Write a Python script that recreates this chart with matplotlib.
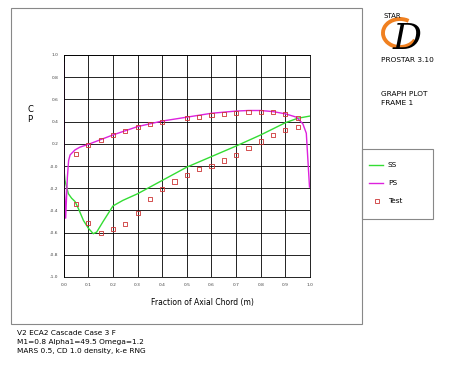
import numpy as np
import matplotlib
matplotlib.use('Agg')
import matplotlib.pyplot as plt
from matplotlib.patches import Rectangle, Arc
from matplotlib.lines import Line2D

W, H = 449, 366

# SS curve (suction side)
ss_x = [0.0, 0.005, 0.019, 0.032, 0.046, 0.059, 0.08, 0.1, 0.12, 0.134, 0.16, 0.2, 0.24,
        0.3, 0.4, 0.5, 0.6, 0.7, 0.8, 0.9, 0.95, 1.0]
ss_cp = [0.0, -0.13, -0.25, -0.29, -0.32, -0.38, -0.49, -0.56, -0.61, -0.595, -0.50, -0.36, -0.31,
         -0.25, -0.13, -0.01, 0.085, 0.18, 0.28, 0.39, 0.43, 0.45]

# PS curve (pressure side)
ps_x = [0.0, 0.001, 0.003, 0.008, 0.015, 0.02, 0.026, 0.046, 0.066, 0.1, 0.2, 0.3, 0.4, 0.5,
        0.6, 0.7, 0.75, 0.8, 0.85, 0.9, 0.945, 0.971, 0.985, 0.998]
ps_cp = [0.93, 0.3, -0.2, -0.47, -0.1, 0.05, 0.10, 0.145, 0.17, 0.195, 0.28, 0.355, 0.405, 0.44,
         0.475, 0.495, 0.50, 0.50, 0.49, 0.47, 0.44, 0.38, 0.295, -0.19]

# Test data
test_x = [0.05, 0.1, 0.15, 0.2, 0.25, 0.3, 0.35, 0.4, 0.5, 0.55, 0.6, 0.65, 0.7, 0.75, 0.8,
          0.85, 0.9, 0.95,
          0.05, 0.1, 0.15, 0.2, 0.25, 0.3, 0.35, 0.4, 0.45, 0.5, 0.55, 0.6, 0.65, 0.7, 0.75,
          0.8, 0.85, 0.9, 0.95]
test_cp = [0.11, 0.19, 0.237, 0.28, 0.315, 0.35, 0.38, 0.40, 0.43, 0.445, 0.46, 0.47, 0.48,
           0.49, 0.49, 0.484, 0.466, 0.43,
           -0.34, -0.51, -0.60, -0.57, -0.52, -0.42, -0.30, -0.21, -0.14, -0.08, -0.03, 0.0,
           0.05, 0.10, 0.165, 0.22, 0.28, 0.325, 0.35]

x_ticks = np.round(np.arange(0, 1.01, 0.1), 1)
y_ticks = np.round(np.arange(-1.0, 1.01, 0.2), 1)

green = '#33dd33'
magenta = '#dd22dd'
red = '#cc3333'


def fx(px):
    return px / W


def fy(py):
    return 1 - py / H


fig = plt.figure(figsize=(W / 100, H / 100), dpi=100)
fig.patch.set_facecolor('white')

# outer frame and legend box
fig.patches.append(Rectangle((fx(11), fy(324)), fx(362) - fx(11), fy(8) - fy(324),
                             transform=fig.transFigure, fill=False, edgecolor='#888888', lw=0.8))
fig.patches.append(Rectangle((fx(362), fy(219)), fx(433) - fx(362), fy(149) - fy(219),
                             transform=fig.transFigure, fill=False, edgecolor='#888888', lw=0.8))

ax = fig.add_axes([fx(63.7), fy(277), fx(310) - fx(63.7), fy(55) - fy(277)])
ax.plot(ss_x, ss_cp, color=green, lw=1.0)
ax.plot(ps_x, ps_cp, color=magenta, lw=1.0)
ax.scatter(test_x, test_cp, marker='s', s=9, facecolors='none', edgecolors=red, linewidths=0.6, zorder=3)

ax.set_xlim(0, 1.0)
ax.set_ylim(-1.0, 1.0)
ax.set_xticks(x_ticks)
ax.set_yticks(y_ticks)
ax.set_xticklabels([f'{v:.1f}' for v in x_ticks])
ax.set_yticklabels([f'{v:.1f}' for v in y_ticks])
ax.tick_params(labelsize=3.2, length=0, pad=4, colors='#444444')
ax.grid(True, color='black', lw=0.6)
for s in ax.spines.values():
    s.set_color('black')
    s.set_linewidth(0.6)

fig.text(fx(30), fy(110), 'C', fontsize=6, ha='center', va='center')
fig.text(fx(30), fy(119), 'P', fontsize=6, ha='center', va='center')
fig.text(fx(202), fy(302), 'Fraction of Axial Chord (m)', fontsize=5.5, ha='center', va='center')

# footnote
for i, t in enumerate(['V2 ECA2 Cascade Case 3 F', 'M1=0.8 Alpha1=49.5 Omega=1.2',
                       'MARS 0.5, CD 1.0 density, k-e RNG']):
    fig.text(fx(17), fy(333 + 9 * i), t, fontsize=5.3, ha='left', va='center')

# logo
fig.patches.append(Arc((fx(400), fy(33)), fx(34), fy(0) - fy(28), angle=0,
                       theta1=60, theta2=330, transform=fig.transFigure,
                       color='#f08020', lw=2.8))
fig.text(fx(407), fy(49), 'D', fontsize=26, family='DejaVu Serif', style='italic',
         ha='center', va='baseline', color='black')
fig.text(fx(383), fy(16), 'STAR', fontsize=5, ha='left', va='center')
fig.text(fx(381), fy(60), 'PROSTAR 3.10', fontsize=5.3, ha='left', va='center')
fig.text(fx(381), fy(94), 'GRAPH PLOT', fontsize=5.3, ha='left', va='center')
fig.text(fx(381), fy(103), 'FRAME 1', fontsize=5.3, ha='left', va='center')

# legend
fig.lines.append(Line2D([fx(369), fx(383)], [fy(165), fy(165)], transform=fig.transFigure, color=green, lw=1.0))
fig.lines.append(Line2D([fx(369), fx(383)], [fy(183), fy(183)], transform=fig.transFigure, color=magenta, lw=1.0))
fig.lines.append(Line2D([fx(377)], [fy(201)], transform=fig.transFigure, marker='s', ms=3,
                        mfc='none', mec=red, mew=0.6, ls='none'))
fig.text(fx(388), fy(165), 'SS', fontsize=5.3, ha='left', va='center')
fig.text(fx(388), fy(183), 'PS', fontsize=5.3, ha='left', va='center')
fig.text(fx(388), fy(201), 'Test', fontsize=5.3, ha='left', va='center')

fig.savefig('out.png', dpi=100)
